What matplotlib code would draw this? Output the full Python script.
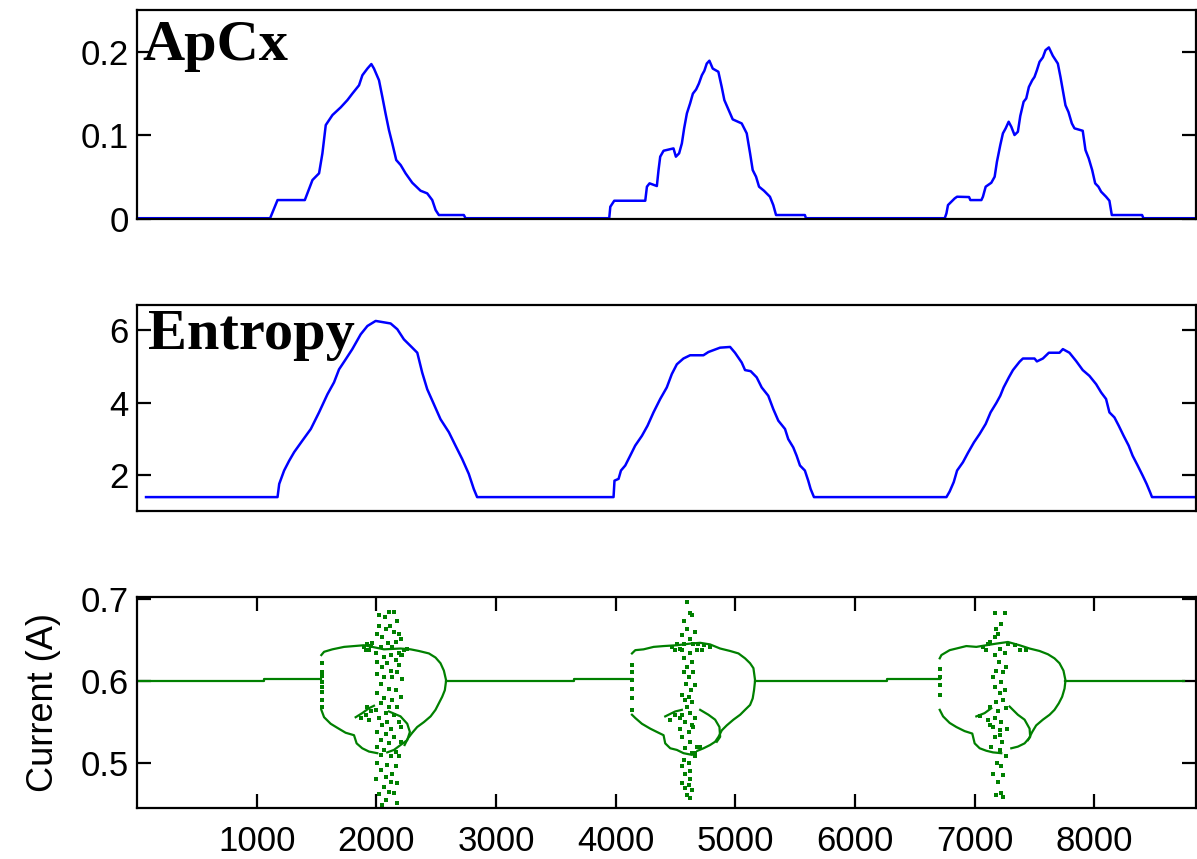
import numpy as np
import matplotlib.pyplot as plt

plt.rcParams['font.family'] = ['Liberation Sans', 'DejaVu Sans']

# ---------------- ApCx (top panel) ----------------
apcx_x = [0, 1112, 1174, 1402, 1424, 1466, 1521, 1549, 1577, 1633, 1702, 1758, 1799, 1855, 1883, 1925, 1958,
          1980, 2022, 2050, 2077, 2105, 2133, 2166, 2203, 2244, 2300, 2369, 2425, 2467, 2495, 2522, 2731, 2745,
          3946, 3955, 3988, 4247, 4261, 4283, 4344, 4358, 4372, 4400, 4483, 4503, 4530, 4553, 4572, 4595, 4622,
          4645, 4672, 4695, 4720, 4741, 4761, 4783, 4811, 4858, 4886, 4908, 4950, 4978, 5053, 5095, 5123, 5145,
          5173, 5198, 5239, 5289, 5317, 5340, 5581, 5590,
          6750, 6764, 6777, 6805, 6833, 6853, 6953, 6964, 7056, 7069, 7092, 7139, 7167, 7186, 7214, 7236, 7259,
          7284, 7306, 7333, 7361, 7381, 7409, 7431, 7453, 7481, 7500, 7520, 7542, 7570, 7592, 7620, 7653, 7695,
          7717, 7737, 7759, 7784, 7812, 7834, 7903, 7926, 7953, 7982, 8007, 8034, 8057, 8098, 8126, 8146, 8399,
          8410, 8850]
apcx_y = [0.001, 0.001, 0.0227, 0.0227, 0.031, 0.0467, 0.0547, 0.0786, 0.1124, 0.1244, 0.1336, 0.1423, 0.150,
          0.160, 0.172, 0.180, 0.1854, 0.180, 0.166, 0.146, 0.126, 0.1065, 0.0905, 0.0706, 0.0646, 0.0547, 0.0434,
          0.0339, 0.0307, 0.0227, 0.0108, 0.0048, 0.0048, 0.001,
          0.001, 0.0147, 0.0219, 0.0219, 0.0387, 0.0427, 0.0395, 0.0586, 0.0746, 0.0817, 0.0845, 0.0746, 0.0786,
          0.0905, 0.1085, 0.1264, 0.1384, 0.150, 0.155, 0.162, 0.172, 0.1774, 0.186, 0.1894, 0.180, 0.1762, 0.158,
          0.1423, 0.1284, 0.1192, 0.1144, 0.1025, 0.0786, 0.0586, 0.0506, 0.0387, 0.0339, 0.0267, 0.0167, 0.0048,
          0.0048, 0.001,
          0.001, 0.0068, 0.0167, 0.0207, 0.0247, 0.0267, 0.0263, 0.0227, 0.0227, 0.0267, 0.0387, 0.0434, 0.0506,
          0.0685, 0.0885, 0.1025, 0.1085, 0.1164, 0.1104, 0.1005, 0.1044, 0.1232, 0.1403, 0.1443, 0.158, 0.166,
          0.170, 0.178, 0.188, 0.1934, 0.202, 0.2053, 0.1953, 0.186, 0.170, 0.154, 0.136, 0.128, 0.1144, 0.1085,
          0.1056, 0.0825, 0.0726, 0.0586, 0.0427, 0.0387, 0.0327, 0.0267, 0.0219, 0.0048, 0.0048, 0.001, 0.001]

# ---------------- Entropy (middle panel) ----------------
ent_x = [75, 1174, 1188, 1229, 1271, 1313, 1382, 1452, 1521, 1591, 1646, 1688, 1744, 1799, 1869, 1925, 1994,
         2119, 2175, 2230, 2300, 2342, 2383, 2425, 2480, 2536, 2606, 2661, 2717, 2772, 2814, 2842,
         3982, 3990, 4024, 4044, 4080, 4121, 4163, 4219, 4266, 4316, 4372, 4427, 4469, 4511, 4566, 4622, 4733,
         4775, 4872, 4956, 4997, 5053, 5081, 5128, 5178, 5220, 5275, 5317, 5359, 5415, 5442, 5484, 5512, 5540,
         5581, 5609, 5629, 5657,
         6764, 6791, 6825, 6853, 6902, 6944, 6994, 7041, 7092, 7133, 7181, 7214, 7242, 7286, 7320, 7375, 7403,
         7500, 7520, 7570, 7620, 7709, 7737, 7792, 7848, 7903, 7959, 8015, 8057, 8098, 8126, 8168, 8204, 8245,
         8287, 8320, 8362, 8404, 8437, 8466, 8482, 8850]
ent_y = [1.385, 1.385, 1.75, 2.12, 2.39, 2.63, 2.95, 3.27, 3.73, 4.23, 4.56, 4.92, 5.20, 5.48, 5.89, 6.12, 6.26,
         6.19, 6.03, 5.75, 5.52, 5.38, 4.83, 4.37, 3.96, 3.54, 3.18, 2.81, 2.44, 2.03, 1.61, 1.385,
         1.385, 1.84, 1.89, 2.12, 2.26, 2.53, 2.81, 3.08, 3.36, 3.73, 4.10, 4.42, 4.79, 5.06, 5.22, 5.31, 5.31,
         5.40, 5.52, 5.54, 5.38, 5.11, 4.90, 4.87, 4.70, 4.42, 4.19, 3.82, 3.50, 3.27, 2.99, 2.76, 2.53, 2.26,
         2.12, 1.84, 1.61, 1.385,
         1.385, 1.54, 1.80, 2.12, 2.35, 2.61, 2.90, 3.13, 3.41, 3.73, 3.99, 4.19, 4.42, 4.70, 4.90, 5.13, 5.22,
         5.22, 5.14, 5.22, 5.38, 5.38, 5.48, 5.38, 5.15, 4.90, 4.74, 4.51, 4.28, 4.10, 3.73, 3.59, 3.36, 3.08,
         2.81, 2.53, 2.26, 1.98, 1.75, 1.52, 1.385, 1.385]

# ---------------- Current (bottom panel) ----------------
# steady segments between the bursts
flat_x = [[0, 1060, 1060, 1540], [2583, 3650, 3650, 4136], [5165, 6265, 6265, 6708], [7759, 8750]]
flat_y = [[0.600, 0.600, 0.603, 0.603], [0.600, 0.600, 0.603, 0.603], [0.600, 0.600, 0.603, 0.603],
          [0.600, 0.600]]

# burst 1
b1_up_x = [1540, 1563, 1632, 1730, 1813, 1896, 1966, 2063, 2202, 2286, 2355, 2439, 2494, 2536, 2564, 2583,
           2572, 2550, 2522, 2494, 2453, 2397, 2341, 2300, 2263, 2236]
b1_up_y = [0.632, 0.636, 0.639, 0.642, 0.643, 0.644, 0.642, 0.639, 0.640, 0.639, 0.637, 0.634, 0.629, 0.622,
           0.613, 0.601, 0.589, 0.581, 0.573, 0.565, 0.557, 0.550, 0.544, 0.537, 0.530, 0.522]
b1_lo_x = [1540, 1563, 1618, 1674, 1743, 1813, 1835, 1882, 1938, 2008]
b1_lo_y = [0.565, 0.556, 0.548, 0.543, 0.537, 0.534, 0.524, 0.518, 0.514, 0.512]
b1_il_x = [1827, 1882, 1938, 1980]
b1_il_y = [0.556, 0.561, 0.567, 0.570]
b1_ir_x = [2105, 2202, 2258, 2280, 2258, 2202, 2147, 2091]
b1_ir_y = [0.563, 0.557, 0.548, 0.538, 0.528, 0.522, 0.516, 0.513]
b1_pts_x = [1543, 1543, 1543, 1543, 1543, 1543, 1543, 1543,
            2105, 2147, 2022, 2069, 2169, 2022, 2113, 2077, 2147, 2188, 2002, 2049, 2202, 2097, 2161, 2035,
            2133, 1994, 2202, 2063, 2119, 2161, 2008, 2091, 2049, 2188, 2119, 2174, 2008, 2063, 2133, 2216,
            2035, 2105, 2161, 2008, 2063, 2133, 2202, 2035, 2105, 2174, 1994, 2077, 2147, 2022, 2091, 2188,
            2049, 2119, 2202, 2008, 2077, 2147, 2035, 2105, 2202, 2008, 2063, 2161, 2035, 2119, 2188, 2008,
            2091, 2161, 2035, 2133, 2077, 1994, 2119, 2174, 2063, 2105, 2147, 2022, 2077, 2049, 2174,
            1896, 1924, 1952, 1938, 1910, 1966, 2230, 2258, 2188, 2216, 1924, 1952, 1910, 1869, 1938]
b1_pts_y = [0.622, 0.611, 0.607, 0.599, 0.593, 0.587, 0.577, 0.569,
            0.685, 0.685, 0.681, 0.678, 0.674, 0.668, 0.667, 0.664, 0.660, 0.658, 0.658, 0.654, 0.652, 0.647,
            0.648, 0.642, 0.642, 0.634, 0.632, 0.630, 0.632, 0.626, 0.624, 0.622, 0.618, 0.620, 0.613, 0.611,
            0.609, 0.605, 0.605, 0.603, 0.597, 0.591, 0.589, 0.585, 0.579, 0.577, 0.581, 0.573, 0.569, 0.569,
            0.565, 0.561, 0.559, 0.555, 0.550, 0.550, 0.546, 0.542, 0.544, 0.538, 0.536, 0.532, 0.528, 0.524,
            0.526, 0.520, 0.516, 0.514, 0.510, 0.508, 0.508, 0.500, 0.498, 0.496, 0.492, 0.487, 0.483, 0.481,
            0.477, 0.475, 0.471, 0.465, 0.463, 0.462, 0.455, 0.449, 0.451,
            0.642, 0.646, 0.643, 0.638, 0.638, 0.647, 0.638, 0.640, 0.635, 0.632, 0.568, 0.564, 0.559, 0.555,
            0.553]

# burst 2
b2_up_x = [4136, 4164, 4233, 4317, 4400, 4511, 4622, 4706, 4789, 4873, 4956, 5026, 5081, 5123, 5151, 5165,
           5156, 5145, 5123, 5081, 5040, 4984, 4928, 4887, 4859, 4831, 4789, 4734, 4684]
b2_up_y = [0.634, 0.638, 0.639, 0.642, 0.643, 0.644, 0.646, 0.647, 0.645, 0.640, 0.637, 0.634, 0.628, 0.622,
           0.616, 0.601, 0.589, 0.579, 0.571, 0.565, 0.559, 0.553, 0.546, 0.540, 0.532, 0.526, 0.522, 0.518,
           0.515]
b2_lo_x = [4136, 4164, 4219, 4289, 4344, 4400, 4414, 4456, 4511, 4567, 4636]
b2_lo_y = [0.559, 0.555, 0.548, 0.542, 0.538, 0.534, 0.524, 0.518, 0.516, 0.512, 0.510]
b2_il_x = [4414, 4497, 4553]
b2_il_y = [0.557, 0.563, 0.565]
b2_ir_x = [4706, 4775, 4831, 4867, 4873, 4845]
b2_ir_y = [0.565, 0.559, 0.553, 0.544, 0.532, 0.526]
b2_pts_x = [4136, 4136, 4136, 4136, 4136, 4136,
            4595, 4617, 4636, 4572, 4595, 4664, 4553, 4622, 4572, 4650, 4553, 4622, 4678, 4567, 4636, 4595,
            4567, 4645, 4609, 4664, 4589, 4628, 4553, 4609, 4581, 4636, 4600, 4553, 4622, 4664, 4581, 4636,
            4539, 4609, 4650, 4553, 4622, 4678, 4581, 4636, 4664, 4567, 4609, 4553, 4622, 4581, 4622, 4553,
            4609, 4581, 4636, 4595, 4622,
            4469, 4511, 4539, 4497, 4692, 4734, 4789, 4720, 4497, 4539, 4456, 4706, 4664]
b2_pts_y = [0.620, 0.611, 0.601, 0.591, 0.579, 0.565,
            0.697, 0.683, 0.681, 0.674, 0.664, 0.660, 0.656, 0.652, 0.646, 0.646, 0.638, 0.634, 0.638, 0.628,
            0.624, 0.618, 0.611, 0.611, 0.605, 0.595, 0.597, 0.589, 0.583, 0.581, 0.577, 0.575, 0.569, 0.559,
            0.561, 0.555, 0.550, 0.546, 0.542, 0.538, 0.544, 0.532, 0.526, 0.520, 0.518, 0.512, 0.508, 0.504,
            0.500, 0.496, 0.490, 0.487, 0.481, 0.475, 0.473, 0.469, 0.467, 0.461, 0.457,
            0.642, 0.646, 0.640, 0.638, 0.646, 0.644, 0.642, 0.638, 0.559, 0.555, 0.553, 0.520, 0.512]

# burst 3
b3_up_x = [6708, 6722, 6791, 6847, 6930, 7014, 7097, 7181, 7278, 7375, 7459, 7542, 7612, 7667, 7709, 7742,
           7759, 7751, 7731, 7703, 7667, 7626, 7570, 7514, 7481, 7453, 7417, 7361, 7306]
b3_up_y = [0.628, 0.632, 0.638, 0.640, 0.643, 0.642, 0.644, 0.646, 0.648, 0.644, 0.640, 0.637, 0.633, 0.628,
           0.622, 0.613, 0.601, 0.591, 0.581, 0.573, 0.565, 0.559, 0.553, 0.546, 0.538, 0.530, 0.524, 0.520,
           0.518]
b3_lo_x = [6708, 6736, 6791, 6847, 6916, 6980, 7000, 7042, 7097, 7153, 7222]
b3_lo_y = [0.565, 0.557, 0.549, 0.544, 0.539, 0.536, 0.524, 0.518, 0.515, 0.513, 0.512]
b3_il_x = [7014, 7083, 7139]
b3_il_y = [0.557, 0.561, 0.567]
b3_ir_x = [7292, 7361, 7417, 7459, 7464, 7445]
b3_ir_y = [0.569, 0.559, 0.553, 0.542, 0.532, 0.528]
b3_pts_x = [6708, 6708, 6708, 6708,
            7167, 7250, 7222, 7181, 7195, 7167, 7125, 7208, 7167, 7250, 7203, 7264, 7181, 7236, 7153, 7222,
            7250, 7167, 7208, 7236, 7181, 7125, 7195, 7264, 7167, 7222, 7125, 7208, 7270, 7167, 7231, 7139,
            7208, 7264, 7186, 7222, 7153, 7236, 7195, 7222, 7175, 7236,
            7069, 7111, 7097, 7278, 7334, 7375, 7431, 7042, 7111, 7153, 7208]
b3_pts_y = [0.615, 0.605, 0.595, 0.583,
            0.683, 0.683, 0.670, 0.664, 0.658, 0.654, 0.648, 0.640, 0.632, 0.634, 0.624, 0.618, 0.613, 0.611,
            0.605, 0.599, 0.589, 0.593, 0.585, 0.577, 0.575, 0.569, 0.563, 0.567, 0.555, 0.550, 0.546, 0.540,
            0.542, 0.532, 0.526, 0.520, 0.516, 0.508, 0.500, 0.496, 0.487, 0.485, 0.477, 0.463, 0.461, 0.459,
            0.642, 0.646, 0.638, 0.646, 0.644, 0.638, 0.638, 0.557, 0.553, 0.544, 0.534]

xtick_vals = [1000, 2000, 3000, 4000, 5000, 6000, 7000, 8000]

blue = '#0000ff'
green = '#008000'
serif = ['Liberation Serif', 'DejaVu Serif']

fig = plt.figure(figsize=(11.97, 8.59), dpi=100)
ax1 = fig.add_axes([0.1145, 0.745, 0.8847, 0.2433])
ax2 = fig.add_axes([0.1145, 0.4051, 0.8847, 0.2398])
ax3 = fig.add_axes([0.1145, 0.0594, 0.8847, 0.2456])

for ax in (ax1, ax2, ax3):
    ax.set_xlim(0, 8850)
    for s in ax.spines.values():
        s.set_linewidth(1.6)
    ax.tick_params(direction='in', length=10, width=1.6, labelsize=25, right=True, top=True, pad=6)

# top
ax1.plot(apcx_x, apcx_y, color=blue, lw=1.8)
ax1.set_ylim(0, 0.25)
ax1.set_yticks([0, 0.1, 0.2])
ax1.set_yticklabels(['0', '0.1', '0.2'])
ax1.set_xticks([])
ax1.text(0.005, 0.761, 'ApCx', transform=ax1.transAxes, family=serif, fontweight='bold',
         fontsize=42, va='baseline', ha='left', zorder=5)

# middle
ax2.plot(ent_x, ent_y, color=blue, lw=1.8)
ax2.set_ylim(1.0, 6.7)
ax2.set_yticks([2, 4, 6])
ax2.set_xticks([])
ax2.text(0.01, 0.786, 'Entropy', transform=ax2.transAxes, family=serif, fontweight='bold',
         fontsize=42, va='baseline', ha='left', zorder=5)

# bottom
for fx, fy in zip(flat_x, flat_y):
    ax3.plot(fx, fy, color=green, lw=1.6)
bursts = [
    (b1_up_x, b1_up_y, b1_lo_x, b1_lo_y, b1_il_x, b1_il_y, b1_ir_x, b1_ir_y, b1_pts_x, b1_pts_y),
    (b2_up_x, b2_up_y, b2_lo_x, b2_lo_y, b2_il_x, b2_il_y, b2_ir_x, b2_ir_y, b2_pts_x, b2_pts_y),
    (b3_up_x, b3_up_y, b3_lo_x, b3_lo_y, b3_il_x, b3_il_y, b3_ir_x, b3_ir_y, b3_pts_x, b3_pts_y),
]
for ux, uy, lx, ly, ilx, ily, irx, iry, px, py in bursts:
    ax3.plot(ux, uy, color=green, lw=1.6)
    ax3.plot(lx, ly, color=green, lw=1.6)
    ax3.plot(ilx, ily, color=green, lw=1.6)
    ax3.plot(irx, iry, color=green, lw=1.6)
    ax3.plot(px, py, 's', color=green, ms=2.6, mew=0)
ax3.set_ylim(0.445, 0.703)
ax3.set_yticks([0.5, 0.6, 0.7])
ax3.set_xticks(xtick_vals)
ax3.tick_params(axis='x', pad=12)
ax3.set_ylabel('Current (A)', fontsize=26, labelpad=14)

fig.savefig('out.png', dpi=100)
